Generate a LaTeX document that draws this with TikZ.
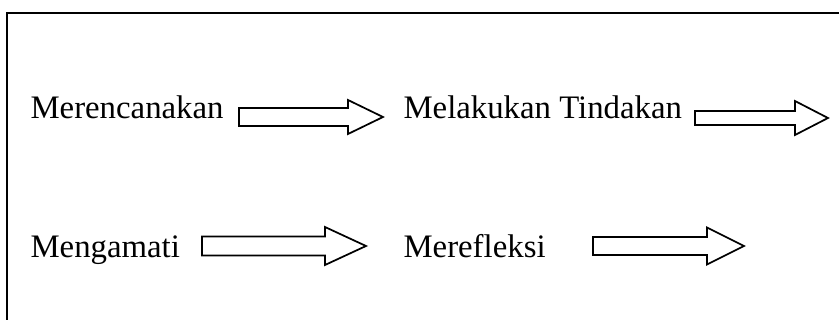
\documentclass[tikz,border=0pt]{standalone}
\usepackage{fontspec}
\setmainfont{Liberation Serif}

\tikzset{
  steptext/.style = {anchor=base west, inner sep=0pt, font=\fontsize{12.3}{14}\selectfont},
  frameline/.style = {line width=1.1pt},
  arrowline/.style = {line width=0.65pt, fill=white, line join=miter}
}

% hollow block arrow: start x, head base x, tip x, mid y, half body, half head
\newcommand{\blockarrow}[6]{%
  \draw[arrowline] (#1,#4-#5) -- (#2,#4-#5) -- (#2,#4-#6) -- (#3,#4)
    -- (#2,#4+#6) -- (#2,#4+#5) -- (#1,#4+#5) -- cycle;}

\begin{document}
\begin{tikzpicture}[x=0.375pt, y=-0.375pt]
				\useasboundingbox (0,0) rectangle (839,320);
				\draw[frameline] (7,322) -- (7,13) -- (841,13);
				
				\node (plan) [steptext] at (30,119) {Merencanakan};
				\node (act) [steptext] at (403,119) {Melakukan Tindakan};
				\node (observe) [steptext] at (30,258) {Mengamati};
				\node (reflect) [steptext] at (403,258) {Merefleksi};
				
				\blockarrow{239}{348}{383}{117}{9}{17}
				\blockarrow{695}{795}{828}{118}{7}{17}
				\blockarrow{202}{325}{366}{246}{9.5}{19}
				\blockarrow{593}{707}{744}{246}{9}{18.5}
			\end{tikzpicture}
\end{document}
